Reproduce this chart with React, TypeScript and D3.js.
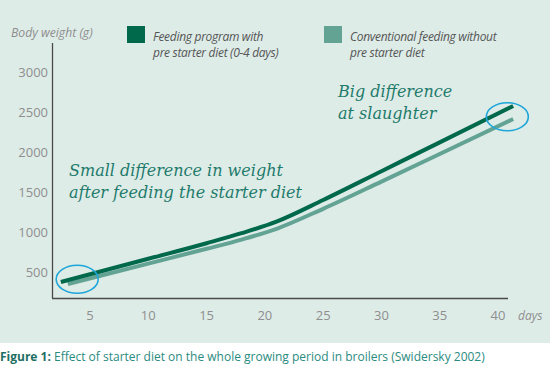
import { useEffect, useRef } from "react";
import * as d3 from "d3";

// days on x, body weight (g) on y
const withStarterDays = [2.5, 10, 15, 18, 21, 25, 30, 35, 41.3];
const withStarterWeight = [375, 665, 860, 985, 1130, 1400, 1760, 2120, 2575];
const conventionalDays = [3.1, 10, 15, 18, 21, 25, 30, 35, 41.3];
const conventionalWeight = [350, 605, 790, 905, 1040, 1290, 1630, 1975, 2412];

const xTicks = [5, 10, 15, 20, 25, 30, 35, 40];
const yTicks = [500, 1000, 1500, 2000, 2500, 3000];

const legendLabels = [
  ["Feeding program with", "pre starter diet (0-4 days)"],
  ["Conventional feeding without", "pre starter diet"],
];
const seriesColors = ["#00694c", "#62a394"];

// highlighted spots (day, weight)
const circles = [
  [3.9, 410],
  [40.8, 2440],
];

export default function App() {
  const ref = useRef<SVGSVGElement>(null);

  useEffect(() => {
    const svg = d3.select(ref.current);
    svg.selectAll("*").remove();

    const width = 550;
    const height = 367;

    const x = d3.scaleLinear().domain([5, 40]).range([90, 498]);
    const y = d3.scaleLinear().domain([500, 3000]).range([272, 72]);

    const axisColor = "#4a4a4a";
    const tickColor = "#8e8e8e";
    const sans = "'Open Sans', sans-serif";
    const serif = "'DejaVu Serif', serif";
    const teal = "#1f7b6b";

    // background
    svg.append("rect").attr("width", width).attr("height", height).attr("fill", "#fff");
    svg.append("rect").attr("width", width).attr("height", 343).attr("fill", "#deece8");

    // axes
    svg
      .append("line")
      .attr("x1", 52.5).attr("x2", 52.5)
      .attr("y1", 43).attr("y2", 298)
      .attr("stroke", axisColor).attr("stroke-width", 1.3);
    svg
      .append("line")
      .attr("x1", 52).attr("x2", 508)
      .attr("y1", 298.5).attr("y2", 298.5)
      .attr("stroke", axisColor).attr("stroke-width", 1.3);

    svg
      .append("g")
      .selectAll("text")
      .data(yTicks)
      .join("text")
      .attr("x", 48)
      .attr("y", (d) => y(d) + 5)
      .attr("text-anchor", "end")
      .attr("font-family", sans)
      .attr("font-size", 13)
      .attr("fill", tickColor)
      .text((d) => d);

    svg
      .append("g")
      .selectAll("text")
      .data(xTicks)
      .join("text")
      .attr("x", (d) => x(d))
      .attr("y", 320)
      .attr("text-anchor", "middle")
      .attr("font-family", sans)
      .attr("font-size", 13)
      .attr("fill", tickColor)
      .text((d) => d);

    svg
      .append("text")
      .attr("x", 518).attr("y", 320)
      .attr("font-family", sans).attr("font-style", "italic")
      .attr("font-size", 12).attr("fill", tickColor)
      .text("days");

    svg
      .append("text")
      .attr("x", 11).attr("y", 37)
      .attr("font-family", sans).attr("font-style", "italic")
      .attr("font-size", 12.2).attr("fill", tickColor)
      .text("Body weight (g)");

    // lines
    const line = d3
      .line<[number, number]>()
      .x((d) => x(d[0]))
      .y((d) => y(d[1]))
      .curve(d3.curveMonotoneX);

    const series = [
      conventionalDays.map((d, i) => [d, conventionalWeight[i]] as [number, number]),
      withStarterDays.map((d, i) => [d, withStarterWeight[i]] as [number, number]),
    ];
    svg
      .append("path")
      .attr("d", line(series[0]))
      .attr("fill", "none")
      .attr("stroke", seriesColors[1])
      .attr("stroke-width", 4);
    svg
      .append("path")
      .attr("d", line(series[1]))
      .attr("fill", "none")
      .attr("stroke", seriesColors[0])
      .attr("stroke-width", 4);

    // ellipses
    svg
      .append("g")
      .selectAll("ellipse")
      .data(circles)
      .join("ellipse")
      .attr("cx", (d) => x(d[0]))
      .attr("cy", (d) => y(d[1]))
      .attr("rx", 21)
      .attr("ry", 14)
      .attr("fill", "none")
      .attr("stroke", "#1ea6d8")
      .attr("stroke-width", 1.6);

    // legend
    const legend = svg
      .append("g")
      .selectAll("g")
      .data(legendLabels)
      .join("g")
      .attr("transform", (d, i) => `translate(${i === 0 ? 127 : 324}, 26)`);
    legend
      .append("rect")
      .attr("width", 18).attr("height", 17)
      .attr("fill", (d, i) => seriesColors[i]);
    legend
      .append("text")
      .attr("font-family", sans).attr("font-style", "italic")
      .attr("font-size", 12).attr("fill", "#555")
      .attr("letter-spacing", -0.3)
      .selectAll("tspan")
      .data((d) => d)
      .join("tspan")
      .attr("x", 26)
      .attr("y", (d, i) => 15 + i * 16)
      .text((d) => d);

    // annotations
    const note = (lines: string[], x0: number, y0: number) => {
      svg
        .append("text")
        .attr("font-family", serif).attr("font-style", "italic")
        .attr("font-size", 16).attr("fill", teal)
        .selectAll("tspan")
        .data(lines)
        .join("tspan")
        .attr("x", x0)
        .attr("y", (d, i) => y0 + i * 21.5)
        .text((d) => d);
    };
    note(["Big difference", "at slaughter"], 338, 97);
    note(["Small difference in weight", "after feeding the starter diet"], 69, 176);

    // caption
    const caption = svg
      .append("text")
      .attr("x", 0).attr("y", 361)
      .attr("font-family", sans).attr("font-size", 12)
      .attr("fill", "#2a8b80");
    caption.append("tspan").attr("font-weight", "bold").attr("fill", "#1f6f63").text("Figure 1: ");
    caption
      .append("tspan")
      .text("Effect of starter diet on the whole growing period in broilers (Swidersky 2002)");
  }, []);

  return (
    <svg
      ref={ref}
      width={550}
      height={367}
      style={{ position: "absolute", left: 0, top: 0, display: "block" }}
    />
  );
}
